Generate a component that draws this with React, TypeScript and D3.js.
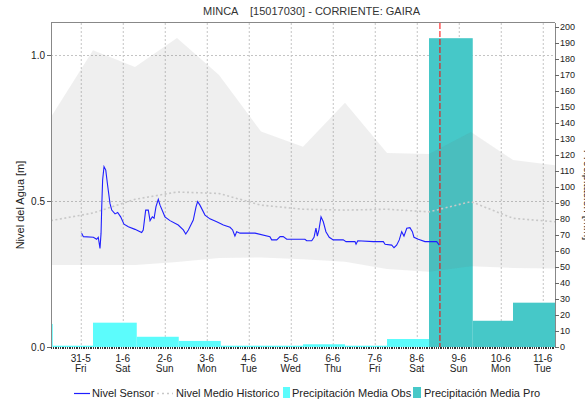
import React from 'react';
import * as d3 from 'd3';

const W = 585;
const H = 403;
const M = { left: 51, right: 555, top: 23, bottom: 347 };
const FONT = 'Liberation Sans, Arial, sans-serif';

// historic band, one point per hydrological day (07:00)
const histTimes = [
  '2019-05-30T07:00', '2019-05-31T07:00', '2019-06-01T07:00', '2019-06-02T07:00',
  '2019-06-03T07:00', '2019-06-04T07:00', '2019-06-05T07:00', '2019-06-06T07:00',
  '2019-06-07T07:00', '2019-06-08T07:00', '2019-06-09T07:00', '2019-06-10T07:00',
  '2019-06-11T07:00',
];
const histMax = [0.788, 1.017, 0.959, 1.059, 0.932, 0.738, 0.686, 0.837, 0.665, 0.661, 0.737, 0.641, 0.623];
const histMin = [0.281, 0.281, 0.281, 0.291, 0.305, 0.307, 0.301, 0.292, 0.267, 0.258, 0.277, 0.271, 0.269];
const histMean = [0.433, 0.459, 0.506, 0.531, 0.526, 0.486, 0.472, 0.469, 0.472, 0.463, 0.498, 0.441, 0.429];

// sensor: [hours after 31-5 00:00, level m]
const sensorStart = '2019-05-31T00:00';
const sensor: [number, number][] = [
  [0.5, 0.39], [1.5, 0.378], [7.2, 0.376], [9.1, 0.369], [10, 0.376], [11, 0.338], [11.6, 0.39],
  [12, 0.481], [12.5, 0.572], [13.3, 0.618], [14.3, 0.606], [15.2, 0.561], [16.7, 0.492],
  [17.7, 0.469], [19.6, 0.456], [21.1, 0.461], [22.8, 0.446], [24.7, 0.421], [27.2, 0.412],
  [31, 0.403], [34.8, 0.392], [35.7, 0.401], [37.1, 0.469], [38.6, 0.469], [39.6, 0.433],
  [40.9, 0.446], [41.9, 0.441], [43, 0.481], [44.3, 0.506], [45.3, 0.486], [48.1, 0.446],
  [51, 0.433], [55.7, 0.418], [58.6, 0.401], [60, 0.387], [61.5, 0.401], [64.3, 0.435],
  [65.9, 0.481], [66.8, 0.498], [68.1, 0.486], [71, 0.452], [73.8, 0.439], [77.7, 0.429],
  [81.5, 0.418], [85.3, 0.41], [86.8, 0.401], [88.1, 0.38], [89.1, 0.395], [91, 0.39],
  [99.6, 0.39], [108.1, 0.378], [109.1, 0.367], [112, 0.367], [113.9, 0.378], [115.7, 0.378],
  [117.7, 0.369], [128.1, 0.369], [129.1, 0.364], [132, 0.364], [133.3, 0.376], [134.4, 0.407],
  [135.2, 0.38], [136.1, 0.401], [137.3, 0.446], [138.6, 0.429], [140.1, 0.395], [142, 0.376],
  [144.3, 0.367], [150, 0.367], [151.6, 0.361], [156.7, 0.361], [157.3, 0.352], [158.3, 0.364],
  [167.2, 0.361], [172.9, 0.361], [173.9, 0.352], [177.7, 0.349], [179, 0.34], [180.5, 0.349],
  [182, 0.367], [183.4, 0.395], [184.7, 0.38], [186.3, 0.407], [188.1, 0.409], [189.5, 0.395],
  [190.4, 0.376], [192.9, 0.369], [196.7, 0.361], [203.4, 0.361], [204.9, 0.349],
];

// precipitation bars: [start, end, mm]
const precObs: [string, string, number][] = [
  ['2019-05-29T08:00', '2019-05-30T08:00', 14.4],
  ['2019-05-30T08:00', '2019-05-31T07:00', 0.8],
  ['2019-05-31T07:00', '2019-06-01T08:00', 15.2],
  ['2019-06-01T08:00', '2019-06-02T08:00', 6.4],
  ['2019-06-02T08:00', '2019-06-03T08:00', 3.8],
  ['2019-06-03T08:00', '2019-06-04T07:00', 0.8],
  ['2019-06-04T07:00', '2019-06-05T07:00', 0.8],
  ['2019-06-05T07:00', '2019-06-06T07:00', 1.7],
  ['2019-06-06T07:00', '2019-06-07T07:00', 0.8],
  ['2019-06-07T07:00', '2019-06-08T07:00', 5.0],
];
const precPro: [string, string, number][] = [
  ['2019-06-08T07:00', '2019-06-09T08:00', 193],
  ['2019-06-09T08:00', '2019-06-10T07:00', 16.4],
  ['2019-06-10T07:00', '2019-06-11T07:00', 27.7],
];

const nowTime = '2019-06-08T13:15';
const levelTicks = [0, 0.5, 1.0];
const legendItems = ['Nivel Sensor', 'Nivel Medio Historico', 'Precipitación Media Obs', 'Precipitación Media Pro'];

const parse = d3.timeParse('%Y-%m-%dT%H:%M');
const fmtDay = d3.timeFormat('%-d-%-m');
const fmtWd = d3.timeFormat('%a');

export default function App() {
  const x = d3.scaleTime().domain([parse(histTimes[0])!, parse(histTimes[histTimes.length - 1])!]).range([M.left, M.right]);
  const y = d3.scaleLinear().domain([0, 1.11]).range([M.bottom, M.top]);
  const yr = d3.scaleLinear().domain([0, 202.5]).range([M.bottom, M.top]);

  const hist = histTimes.map((t, i) => ({ t: parse(t)!, max: histMax[i], min: histMin[i], mean: histMean[i] }));
  const band = d3.area<any>().x((d) => x(d.t)).y0((d) => y(d.min)).y1((d) => y(d.max))(hist);
  const meanLine = d3.line<any>().x((d) => x(d.t)).y((d) => y(d.mean))(hist);
  const s0 = parse(sensorStart)!;
  const sensorLine = d3
    .line<[number, number]>()
    .x((d) => x(new Date(+s0 + d[0] * 3600e3)))
    .y((d) => y(d[1]))(sensor);

  const days = d3.timeDay.range(x.domain()[0], x.domain()[1]);
  const hours = d3.timeHour.range(x.domain()[0], x.domain()[1]);
  const rTicks = d3.range(0, 201, 10);
  const nowX = x(parse(nowTime)!);

  const bar = (d: [string, string, number], fill: string, i: number) => {
    const x0 = Math.max(M.left, x(parse(d[0])!));
    const x1 = x(parse(d[1])!);
    return <rect key={i} x={x0} y={yr(d[2])} width={Math.max(0, x1 - x0)} height={yr(0) - yr(d[2])} fill={fill} />;
  };

  return (
    <svg width={W} height={H} style={{ position: 'absolute', left: 0, top: 0, background: '#fff' }} fontFamily={FONT}>
      <text x={203} y={15} fontSize={11} fill="#333" style={{ whiteSpace: 'pre' }}>
        {'MINCA    [15017030] - CORRIENTE: GAIRA'}
      </text>

      {/* grid */}
      <g stroke="#c4c4c4" strokeDasharray="2,2">
        {days.map((d, i) => (
          <line key={i} x1={x(d) + 0.5} x2={x(d) + 0.5} y1={M.top} y2={M.bottom} />
        ))}
        {levelTicks.slice(1).map((v) => (
          <line key={v} x1={M.left} x2={M.right} y1={Math.round(y(v)) + 0.5} y2={Math.round(y(v)) + 0.5} />
        ))}
      </g>

      {/* precipitation */}
      <g>{precObs.map((d, i) => bar(d, '#5cfcfc', i))}</g>
      <g>{precPro.map((d, i) => bar(d, '#46c8c8', i))}</g>

      {/* historic band + mean */}
      <path d={band!} fill="rgba(105,105,105,0.11)" />
      <path d={meanLine!} fill="none" stroke="#c8c8c8" strokeWidth={1.6} strokeDasharray="2,2.5" />

      {/* sensor */}
      <path d={sensorLine!} fill="none" stroke="#1f1fff" strokeWidth={1.1} />

      {/* now */}
      <line x1={nowX} x2={nowX} y1={M.top} y2={M.bottom} stroke="#ff0000" strokeDasharray="6,2" />

      {/* frame */}
      <g stroke="#888" fill="none">
        <line x1={M.left + 0.5} x2={M.left + 0.5} y1={M.top} y2={M.bottom} />
        <line x1={M.right + 0.5} x2={M.right + 0.5} y1={M.top} y2={M.bottom} />
        <line x1={M.left} x2={M.right} y1={M.top - 0.5} y2={M.top - 0.5} />
      </g>

      {/* x axis */}
      <g stroke="#333">
        {hours.map((h, i) => (
          <line key={i} x1={Math.round(x(h)) + 0.5} x2={Math.round(x(h)) + 0.5} y1={M.bottom} y2={M.bottom + 2} />
        ))}
      </g>
      <g fontSize={10} fill="#222" textAnchor="middle">
        {days.map((d, i) => (
          <g key={i}>
            <text x={x(d)} y={362}>{fmtDay(d)}</text>
            <text x={x(d)} y={372}>{fmtWd(d)}</text>
          </g>
        ))}
      </g>

      {/* left axis */}
      <g fontSize={10} fill="#222" textAnchor="end">
        {levelTicks.map((v) => (
          <g key={v}>
            <line x1={M.left - 4} x2={M.left} y1={Math.round(y(v)) + 0.5} y2={Math.round(y(v)) + 0.5} stroke="#666" />
            <text x={M.left - 6} y={y(v)} dy="0.35em">{v.toFixed(1)}</text>
          </g>
        ))}
      </g>
      <text transform={`translate(24,${(M.top + M.bottom) / 2 + 20}) rotate(-90)`} fontSize={11} fill="#222" textAnchor="middle">
        Nivel del Agua [m]
      </text>

      {/* right axis */}
      <g fontSize={9} fill="#222">
        {rTicks.map((v) => (
          <g key={v}>
            <line x1={M.right} x2={M.right + 4} y1={Math.round(yr(v)) + 0.5} y2={Math.round(yr(v)) + 0.5} stroke="#666" />
            <text x={M.right + 5} y={yr(v)} dy="0.35em">{v}</text>
          </g>
        ))}
      </g>
      <text transform={`translate(584,195) rotate(90)`} fontSize={11} fill="#222" textAnchor="middle">
        Precipitación [mm]
      </text>

      {/* legend */}
      <g fontSize={11} fill="#222">
        <line x1={74} x2={90} y1={393.5} y2={393.5} stroke="#1f1fff" strokeWidth={1.2} />
        <text x={92} y={397}>{legendItems[0]}</text>
        <line x1={157} x2={173} y1={393.5} y2={393.5} stroke="#c8c8c8" strokeWidth={1.6} strokeDasharray="2,3" />
        <text x={176} y={397}>{legendItems[1]}</text>
        <rect x={283} y={387} width={7} height={11} fill="#5cfcfc" />
        <text x={292} y={397}>{legendItems[2]}</text>
        <rect x={413} y={387} width={8} height={11} fill="#46c8c8" />
        <text x={424} y={397}>{legendItems[3]}</text>
      </g>
    </svg>
  );
}
